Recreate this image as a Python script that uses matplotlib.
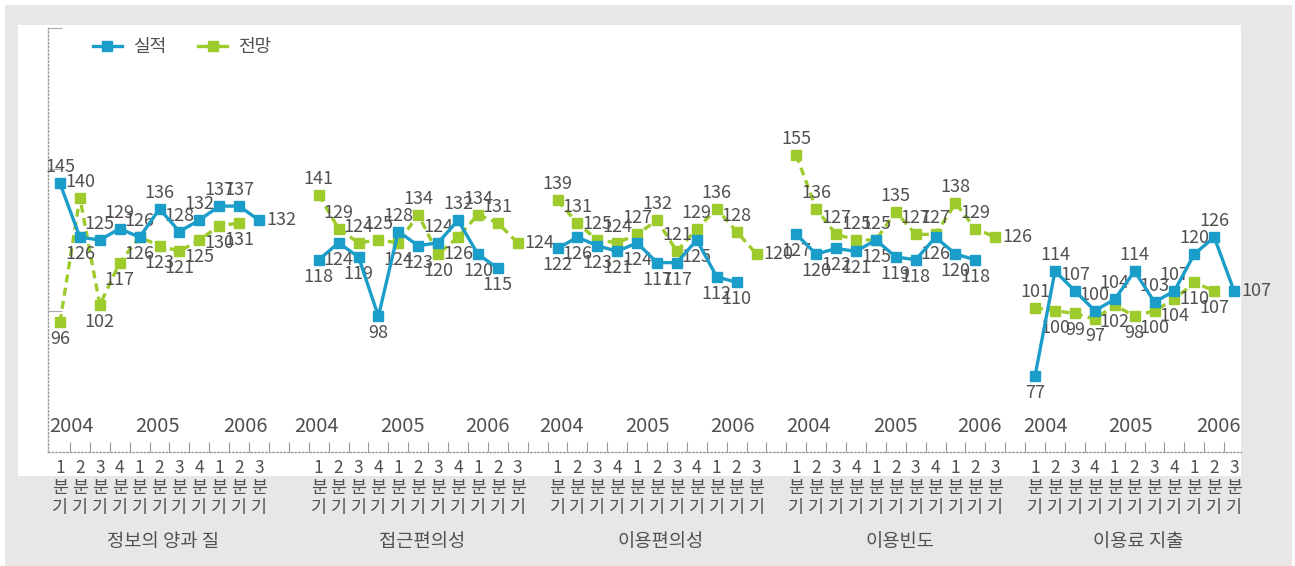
import matplotlib
matplotlib.use('Agg')
import matplotlib.pyplot as plt
import matplotlib.transforms as mtransforms
from matplotlib.patches import Rectangle
from matplotlib.lines import Line2D
import numpy as np

plt.rcParams['font.family'] = ['Noto Sans CJK KR', 'DejaVu Sans']
plt.rcParams['font.weight'] = 'light'

# Chart data: five survey items, each with 11 quarters (2004 Q1 .. 2006 Q3)
groups = ['정보의 양과 질', '접근편의성', '이용편의성', '이용빈도', '이용료 지출']
quarters = ['1', '2', '3', '4', '1', '2', '3', '4', '1', '2', '3']
years = ['2004', '2005', '2006']
series_names = ['실적', '전망']

actual = [
    [145, 126, 125, 129, 126, 136, 128, 132, 137, 137, 132],
    [118, 124, 119, 98, 128, 123, 124, 132, 120, 115, None],
    [122, 126, 123, 121, 124, 117, 117, 125, 112, 110, None],
    [127, 120, 122, 121, 125, 119, 118, 126, 120, 118, None],
    [77, 114, 107, 100, 104, 114, 103, 107, 120, 126, 107],
]
forecast = [
    [96, 140, 102, 117, 126, 123, 121, 125, 130, 131, None],
    [141, 129, 124, 125, 124, 134, 120, 126, 134, 131, 124],
    [139, 131, 125, 124, 127, 132, 121, 129, 136, 128, 120],
    [155, 136, 127, 125, 125, 135, 127, 127, 138, 129, 126],
    [101, 100, 99, 97, 102, 98, 100, 104, 110, 107, None],
]

# Layout: first category slot of each group, year label offsets within group
group_start = [0, 13, 25, 37, 49]
year_offsets = [[0.6, 4.9, 9.3], [-0.1, 4.2, 8.5], [0.2, 4.5, 8.8],
                [0.6, 5.0, 9.2], [0.5, 4.8, 9.2]]

BLUE = '#1b9dc9'
GREEN = '#9dcb2b'
TEXT = '#505050'
GRAY_BG = '#e8e7e5'

W, H = 1295, 566
fig = plt.figure(figsize=(W / 100, H / 100), dpi=100)
fig.patch.set_facecolor('white')


# Helper to put a rectangle on the figure in pixel coordinates (from top-left)
def pixel_rect(x0, y0, x1, y1, color):
    fig.add_artist(Rectangle((x0 / W, 1 - y1 / H), (x1 - x0) / W, (y1 - y0) / H,
                             transform=fig.transFigure, color=color, zorder=0, lw=0))


pixel_rect(5, 5, 1292, 566, GRAY_BG)
pixel_rect(18, 25, 1241, 476, 'white')

ax = fig.add_axes([48 / W, 1 - 452 / H, (1241 - 48) / W, (452 - 28) / H])
ax.set_facecolor('none')
ax.set_xlim((48 - 60) / 19.9, (1241 - 60) / 19.9)
ax.set_ylim(50, 200)


# Decide where a data label goes relative to its point
def label_side(v, other, strict):
    if other is None:
        return 'right'
    if strict:
        return 'above' if v > other else 'below'
    return 'above' if v >= other else 'below'


def add_label(x, v, side):
    if side == 'above':
        ax.annotate(str(v), (x, v), xytext=(0, 7), textcoords='offset pixels',
                    ha='center', va='bottom', fontsize=13, color=TEXT)
    elif side == 'below':
        ax.annotate(str(v), (x, v), xytext=(0, -8), textcoords='offset pixels',
                    ha='center', va='top', fontsize=13, color=TEXT)
    else:
        ax.annotate(str(v), (x, v), xytext=(7, 0), textcoords='offset pixels',
                    ha='left', va='center', fontsize=13, color=TEXT)


centers = []
for g, start in enumerate(group_start):
    xs = np.arange(start, start + len(quarters))
    centers.extend(xs)
    a = np.array([np.nan if v is None else v for v in actual[g]], dtype=float)
    f = np.array([np.nan if v is None else v for v in forecast[g]], dtype=float)

    ax.plot(xs, f, color=GREEN, lw=2.4, ls=(0, (2.4, 1.6)), marker='s',
            markersize=7, zorder=3)
    ax.plot(xs, a, color=BLUE, lw=2.4, marker='s', markersize=7, zorder=4)

    for i, x in enumerate(xs):
        if actual[g][i] is not None:
            add_label(x, actual[g][i], label_side(actual[g][i], forecast[g][i], False))
        if forecast[g][i] is not None:
            add_label(x, forecast[g][i], label_side(forecast[g][i], actual[g][i], True))

    # year labels inside the plot area
    for yr, off in zip(years, year_offsets[g]):
        ax.text(start + off, 59, yr, ha='center', va='center', fontsize=14.5, color=TEXT)

# Quarter tick labels, stacked vertically
ax.set_xticks(centers)
ax.set_xticklabels([q + '\n분\n기' for q in quarters] * len(groups),
                   fontsize=12.5, color=TEXT, linespacing=1.15)
ax.tick_params(axis='x', which='major', length=0, pad=5)
ax.set_xticks(np.arange(0.5, 59, 1), minor=True)
ax.tick_params(axis='x', which='minor', direction='in', length=7, color='#999999', width=0.8)

ax.set_yticks([100, 150, 200])
ax.set_yticklabels([])
ax.tick_params(axis='y', direction='in', length=10, color='#aaaaaa', width=0.8)

for side in ['top', 'right']:
    ax.spines[side].set_visible(False)
for side in ['left', 'bottom']:
    ax.spines[side].set_linestyle(':')
    ax.spines[side].set_color('#999999')
    ax.spines[side].set_linewidth(1)

# Group names under the quarter labels
trans = mtransforms.blended_transform_factory(ax.transData, fig.transFigure)
for g, start in enumerate(group_start):
    ax.text(start + 5.2, 1 - 542 / H, groups[g], transform=trans, ha='center',
            va='center', fontsize=13.5, color=TEXT)

# Legend
handles = [Line2D([0], [0], color=BLUE, lw=2.4, marker='s', markersize=7),
           Line2D([0], [0], color=GREEN, lw=2.4, marker='s', markersize=7)]
leg = ax.legend(handles, series_names, loc='center left',
                bbox_to_anchor=(93 / W, 1 - 47 / H), bbox_transform=fig.transFigure,
                ncol=2, frameon=False, fontsize=13, handlelength=1.6,
                handletextpad=0.6, columnspacing=1.8, borderpad=0, borderaxespad=0)
for t in leg.get_texts():
    t.set_color(TEXT)

fig.savefig('out.png', dpi=100)
